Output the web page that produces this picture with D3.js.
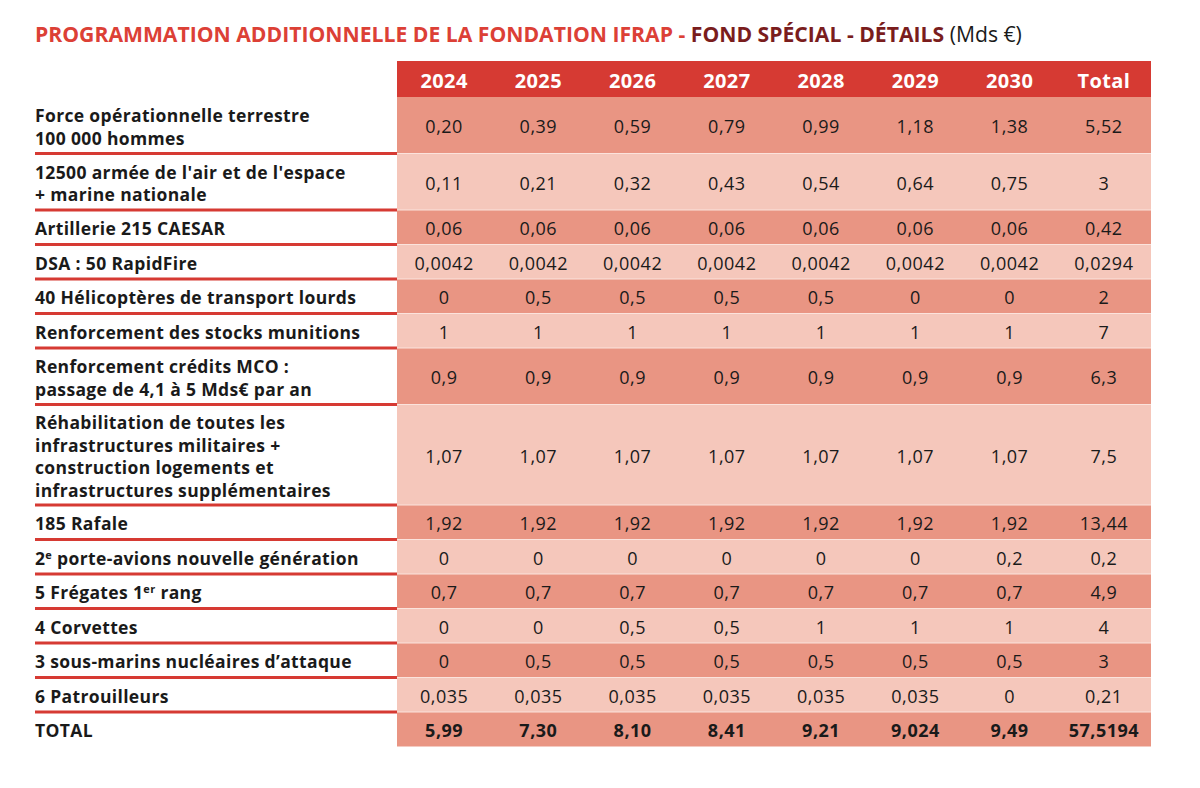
<!DOCTYPE html>
<html><head><meta charset="utf-8">
<script src="https://cdn.jsdelivr.net/npm/d3@7"></script>
<style>
html,body{margin:0;padding:0;background:#fff;}
svg{display:block;}
</style></head>
<body>
<svg id="chart" width="1200" height="788"></svg>
<script>
// ---------- DATA ----------
const columns = ["2024","2025","2026","2027","2028","2029","2030","Total"];
// Row labels: each entry is a list of lines; {x} marks superscript text
const rowLabels = [
  ["Force opérationnelle terrestre","100 000 hommes"],
  ["12500 armée de l'air et de l'espace","+ marine nationale"],
  ["Artillerie 215 CAESAR"],
  ["DSA : 50 RapidFire"],
  ["40 Hélicoptères de transport lourds"],
  ["Renforcement des stocks munitions"],
  ["Renforcement crédits MCO :","passage de 4,1 à 5 Mds€ par an"],
  ["Réhabilitation de toutes les","infrastructures militaires +","construction logements et","infrastructures supplémentaires"],
  ["185 Rafale"],
  ["2{e} porte-avions nouvelle génération"],
  ["5 Frégates 1{er} rang"],
  ["4 Corvettes"],
  ["3 sous-marins nucléaires d’attaque"],
  ["6 Patrouilleurs"],
  ["TOTAL"]
];
const v2024 = ["0,20","0,11","0,06","0,0042","0","1","0,9","1,07","1,92","0","0,7","0","0","0,035","5,99"];
const v2025 = ["0,39","0,21","0,06","0,0042","0,5","1","0,9","1,07","1,92","0","0,7","0","0,5","0,035","7,30"];
const v2026 = ["0,59","0,32","0,06","0,0042","0,5","1","0,9","1,07","1,92","0","0,7","0,5","0,5","0,035","8,10"];
const v2027 = ["0,79","0,43","0,06","0,0042","0,5","1","0,9","1,07","1,92","0","0,7","0,5","0,5","0,035","8,41"];
const v2028 = ["0,99","0,54","0,06","0,0042","0,5","1","0,9","1,07","1,92","0","0,7","1","0,5","0,035","9,21"];
const v2029 = ["1,18","0,64","0,06","0,0042","0","1","0,9","1,07","1,92","0","0,7","1","0,5","0,035","9,024"];
const v2030 = ["1,38","0,75","0,06","0,0042","0","1","0,9","1,07","1,92","0,2","0,7","1","0,5","0","9,49"];
const vTotal = ["5,52","3","0,42","0,0294","2","7","6,3","7,5","13,44","0,2","4,9","4","3","0,21","57,5194"];
const titleParts = [
  {text:"PROGRAMMATION ADDITIONNELLE DE LA FONDATION IFRAP - ", cls:"t1"},
  {text:"FOND SPÉCIAL - DÉTAILS", cls:"t2"},
  {text:" (Mds €)", cls:"t3"}
];

// ---------- STYLE ----------
const C = {
  header:"#d63a33", dark:"#e99583", light:"#f5c7bb", sep:"#d63a33",
  red:"#dc4036", darkred:"#7a1d1d", text:"#1a1a1a"
};
const FONT = "'Open Sans', sans-serif";
const tableLeft = 397, tableRight = 1151, labelX = 35;
const headerTop = 61, headerH = 36;
const lineStep = 22.5;

const values = [v2024,v2025,v2026,v2027,v2028,v2029,v2030,vTotal];
const rows = rowLabels.map((lines,i)=>({
  lines, vals: values.map(v=>v[i]), total: i===rowLabels.length-1
}));
let yCur = headerTop + headerH;
rows.forEach(r=>{
  const n = r.lines.length;
  r.h = 34.5 + 22*(n-1);
  r.y0 = yCur; yCur += r.h;
});

const svg = d3.select("#chart");
const x = d3.scaleBand().domain(columns).range([tableLeft, tableRight]);

// ---------- TITLE ----------
const title = svg.append("text").attr("x", labelX).attr("y", 42)
  .style("font-family", FONT).style("font-size","21px");
title.selectAll("tspan").data(titleParts).join("tspan")
  .text(d=>d.text)
  .attr("fill", d=>d.cls==="t1"?C.red:d.cls==="t2"?C.darkred:C.text)
  .style("font-weight", d=>d.cls==="t3"?400:700);
const tw = title.node().getComputedTextLength();
const targetW = 1022 - labelX;
title.style("font-size", (21*targetW/tw).toFixed(2)+"px");

// ---------- HEADER ----------
svg.append("rect").attr("x", tableLeft).attr("y", headerTop)
  .attr("width", tableRight-tableLeft).attr("height", headerH).attr("fill", C.header);
svg.selectAll("text.hdr").data(columns).join("text").attr("class","hdr")
  .attr("x", d=>x(d)+x.bandwidth()/2).attr("y", headerTop+headerH/2+1)
  .attr("text-anchor","middle").attr("dominant-baseline","central")
  .style("font-family", FONT).style("font-weight",700).style("font-size","20px")
  .style("letter-spacing","0.4px")
  .attr("fill","#fff").text(d=>d);

// ---------- ROWS ----------
const g = svg.selectAll("g.row").data(rows).join("g").attr("class","row");
g.append("rect").attr("x", tableLeft).attr("y", d=>d.y0)
  .attr("width", tableRight-tableLeft).attr("height", d=>d.h)
  .attr("fill",(d,i)=>i%2===0?C.dark:C.light);
g.filter((d,i)=>i>0).append("line")
  .attr("x1", tableLeft).attr("x2", tableRight)
  .attr("y1", d=>d.y0).attr("y2", d=>d.y0)
  .attr("stroke","#fbe3dc").attr("stroke-width",1);
g.filter(d=>!d.total).append("line")
  .attr("x1", labelX).attr("x2", tableLeft)
  .attr("y1", d=>d.y0+d.h).attr("y2", d=>d.y0+d.h)
  .attr("stroke", C.sep).attr("stroke-width",3.2);

// labels
function addRich(sel, str){
  const parts = str.split(/(\{[^}]*\})/).filter(s=>s.length);
  let raised = false;
  parts.forEach(p=>{
    if(p.startsWith("{")){
      sel.append("tspan").text(p.slice(1,-1)).attr("dy","-6px")
        .style("font-size","11px");
      raised = true;
    } else {
      const t = sel.append("tspan").text(p);
      if(raised){ t.attr("dy","6px"); raised = false; }
    }
  });
}
g.each(function(d){
  const n = d.lines.length;
  const cy = d.y0 + d.h/2;
  const sel = d3.select(this);
  d.lines.forEach((ln,k)=>{
    const t = sel.append("text").attr("x", labelX)
      .attr("y", cy + (k-(n-1)/2)*lineStep + 8)
      .style("font-family", FONT).style("font-weight",700).style("font-size","17.5px")
      .style("letter-spacing","0.35px")
      .attr("fill", C.text);
    addRich(t, ln);
  });
});
// values
g.each(function(d){
  const cy = d.y0 + d.h/2;
  d3.select(this).selectAll("text.val").data(columns.map((c,j)=>({c, v:d.vals[j]})))
    .join("text").attr("class","val")
    .attr("x", e=>x(e.c)+x.bandwidth()/2).attr("y", cy+1)
    .attr("text-anchor","middle").attr("dominant-baseline","central")
    .style("font-family", FONT).style("font-weight", d.total?700:400)
    .style("font-size","18px").style("letter-spacing","0.5px")
    .attr("fill", C.text).text(e=>e.v);
});
</script>
</body></html>
